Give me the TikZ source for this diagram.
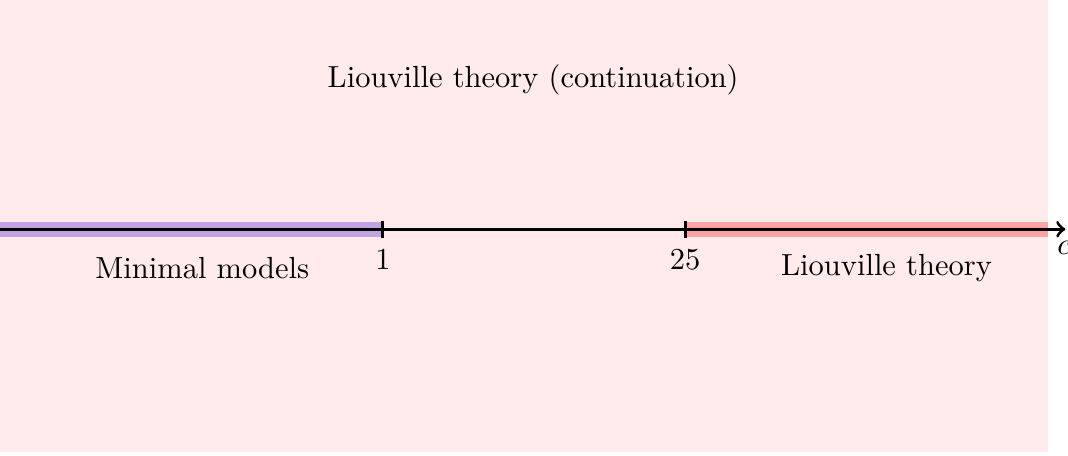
\documentclass[tikz,border=0pt]{standalone}
\usepackage{amsmath}
\usepackage{amssymb}
\usetikzlibrary{calc}

\begin{document}
\begin{tikzpicture}[x=1cm,y=1cm]
  \useasboundingbox (0,0) rectangle (12.30,5.24);
  \fill[red!8] (0,0.03) rectangle (12.07,5.24);
  \coordinate (L) at (0,2.60); \coordinate (E) at (12.07,2.60);
  \coordinate (A) at (4.41,2.60); \coordinate (B) at (7.89,2.60);
  \coordinate (R) at (12.27,2.60);
  \draw[blue!80!red, opacity=0.3, line width=5pt] (L) -- (A);
  \draw[red, opacity=0.3, line width=5pt] (B) -- (E);
  \draw[line width=1pt, ->] (L) -- (R) node[below, xshift=-0.5pt] (c) {$c$};
  \draw[line width=1pt] (A) ++(0,0.1) -- ++(0,-0.2) node[below] (one) {$1$};
  \draw[line width=1pt] (B) ++(0,0.1) -- ++(0,-0.2) node[below] (tf) {$25$};
  \node (mm) at (2.33,2.15) {Minimal models};
  \node (lt) at (10.21,2.15) {Liouville theory};
  \node (ltc) at (6.14,4.32) {Liouville theory (continuation)};
\end{tikzpicture}
\end{document}
